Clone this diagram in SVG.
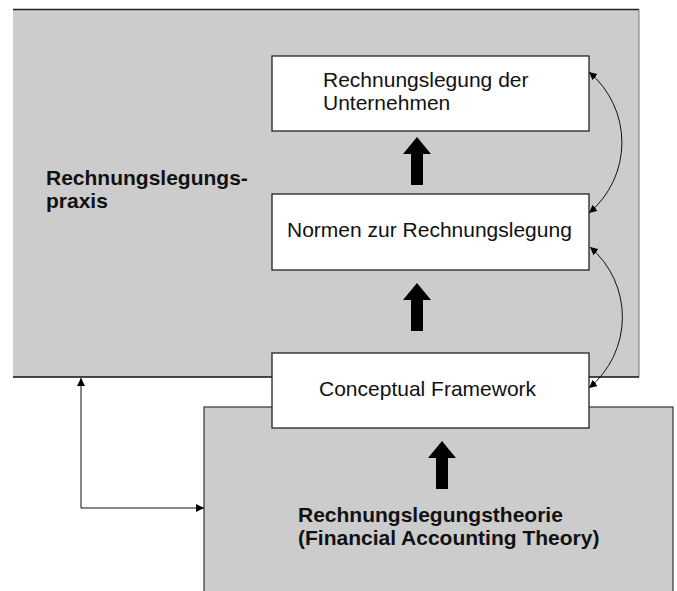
<svg xmlns="http://www.w3.org/2000/svg" width="677" height="591" viewBox="0 0 677 591">
  <defs>
    <style>
      .area { fill: #cccccc; }
      .box { fill: #ffffff; stroke: #222222; stroke-width: 1.3; }
      .txt { font-family: "Liberation Sans", Arial, sans-serif; font-size: 21px; fill: #111111; }
      .bold { font-weight: bold; }
      .conn { fill: none; stroke: #111111; stroke-width: 1; }
      .big { fill: #000000; }
    </style>
    <marker id="ah" viewBox="0 0 10 10" refX="10" refY="5" markerWidth="8" markerHeight="8" markerUnits="userSpaceOnUse" orient="auto-start-reverse">
      <path d="M0,0 L10,5 L0,10 z" fill="#000000"/>
    </marker>
    <path id="bigArrow" d="M0,0 L14,17 L6,17 L6,48 L-6,48 L-6,17 L-14,17 z"/>
  </defs>

  <g id="praxis">
    <rect class="area" x="13" y="9.5" width="626" height="367.5"/>
    <path d="M13,9.5 L639,9.5" stroke="#222222" stroke-width="1.5" fill="none"/>
    <path d="M639,9.5 L639,377" stroke="#777777" stroke-width="1" fill="none"/>
    <path d="M13,377 L639,377" stroke="#111111" stroke-width="1.3" fill="none"/>
    <text class="txt bold" x="46" y="185">Rechnungslegungs-</text>
    <text class="txt bold" x="46" y="208">praxis</text>
  </g>

  <g id="theorie">
    <rect class="area" x="204" y="407" width="469" height="200" stroke="#333333" stroke-width="1.2"/>
    <text class="txt bold" x="298" y="522">Rechnungslegungstheorie</text>
    <text class="txt bold" x="298" y="545">(Financial Accounting Theory)</text>
  </g>

  <g id="unternehmen">
    <rect class="box" x="272" y="56" width="317" height="75"/>
    <text class="txt" x="323" y="87">Rechnungslegung der</text>
    <text class="txt" x="323" y="110">Unternehmen</text>
  </g>

  <g id="normen">
    <rect class="box" x="272" y="194" width="317" height="76"/>
    <text class="txt" x="287" y="237">Normen zur Rechnungslegung</text>
  </g>

  <g id="framework">
    <rect class="box" x="272" y="353" width="317" height="75"/>
    <text class="txt" x="319" y="396">Conceptual Framework</text>
  </g>

  <g id="connectors">
    <use href="#bigArrow" class="big" x="417" y="137"/>
    <use href="#bigArrow" class="big" x="417" y="283"/>
    <use href="#bigArrow" class="big" x="442" y="441"/>
    <path class="conn" d="M589,72 A92,92 0 0 1 589,213" marker-start="url(#ah)" marker-end="url(#ah)"/>
    <path class="conn" d="M590,247 A92,92 0 0 1 589,388" marker-start="url(#ah)" marker-end="url(#ah)"/>
    <path class="conn" d="M81,378 L81,508 L204,508" marker-start="url(#ah)" marker-end="url(#ah)"/>
  </g>
</svg>
